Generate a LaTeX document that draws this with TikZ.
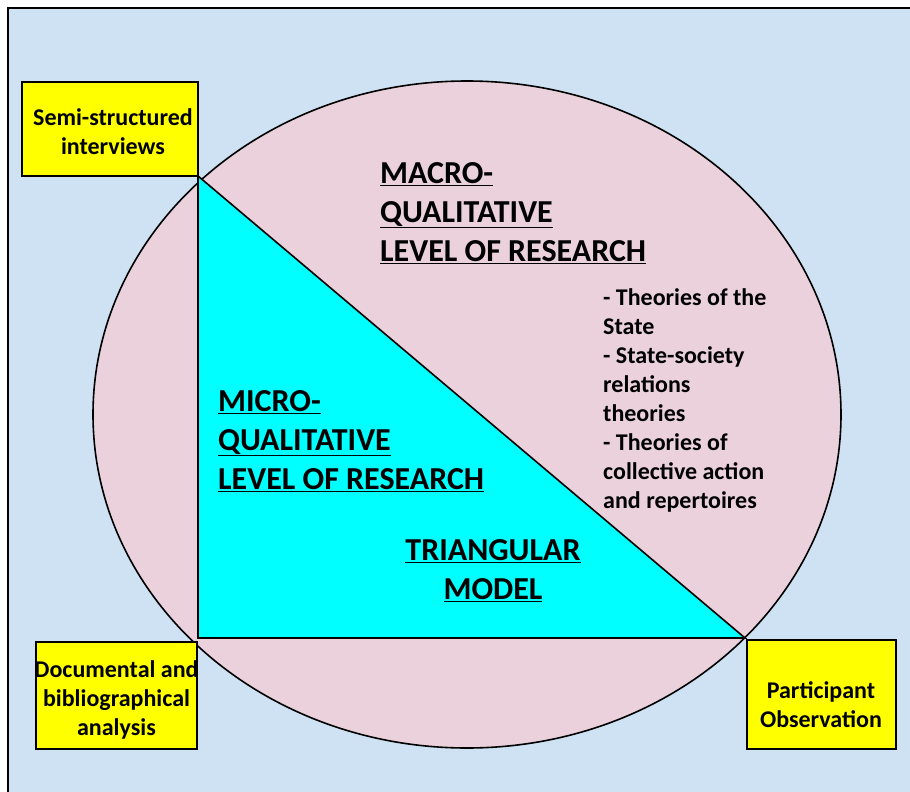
\documentclass[tikz,border=0pt]{standalone}
\usepackage{fontspec}
\setmainfont{Carlito}
\definecolor{bgblue}{RGB}{207,226,243}
\definecolor{ovalpink}{RGB}{234,209,220}
\definecolor{boxyellow}{RGB}{255,255,0}
\definecolor{tricyan}{RGB}{0,255,255}
\begin{document}
\begin{tikzpicture}[x=1pt,y=-1pt,
  frame/.style={draw=black,line width=2pt,fill=bgblue},
  oval/.style={draw=black,line width=1.6pt,fill=ovalpink},
  tri/.style={draw=black,line width=1.6pt,fill=tricyan,line join=miter},
  ybox/.style={draw=black,line width=1.6pt,fill=boxyellow,inner sep=0pt},
  boxtxt/.style={inner sep=0pt,align=center,font=\bfseries\fontsize{24}{29}\selectfont},
  bigtxt/.style={inner sep=0pt,align=left,font=\bfseries\fontsize{32}{39}\selectfont},
  listtxt/.style={inner sep=0pt,align=left,font=\bfseries\fontsize{24}{29}\selectfont}]
\useasboundingbox (0,0) rectangle (910,792);

% page frame, open towards the right and bottom edges
\begin{scope}
  \clip (0,0) rectangle (910,792);
  \draw[frame] (8,8) rectangle (930,812);
\end{scope}

% outer oval: macro level
\draw[oval] (467,414.5) ellipse [x radius=374, y radius=333.5];

% inner triangle: micro level
\coordinate (tA) at (198,176);
\coordinate (tB) at (198,638);
\coordinate (tC) at (745,638);
\draw[tri] (tA) -- (tB) -- (tC) -- cycle;

% method boxes at the triangle corners
\node[ybox,minimum width=176pt,minimum height=94pt] (semi) at (110,129) {};
\node[ybox,minimum width=161pt,minimum height=107pt] (docu) at (116.5,695.5) {};
\node[ybox,minimum width=149pt,minimum height=109pt] (part) at (821.5,694.5) {};

\node[boxtxt] (semitxt) at (113,132) {Semi-structured\\interviews};
\node[boxtxt] (docutxt) at (116.5,699.5) {Documental and\\bibliographical\\analysis};
\node[boxtxt] (parttxt) at (821,705) {Participant\\Observation};

% level labels
\node[bigtxt,anchor=north west] (macro) at (380,162)
  {\underline{MACRO-}\\\underline{QUALITATIVE}\\\underline{LEVEL OF RESEARCH}};
\node[bigtxt,anchor=north west] (micro) at (218,390)
  {\underline{MICRO-}\\\underline{QUALITATIVE}\\\underline{LEVEL OF RESEARCH}};
\node[bigtxt,align=center,anchor=north] (model) at (493,539.5)
  {\underline{TRIANGULAR}\\\underline{MODEL}};

% theories list
\node[listtxt,anchor=north west] (theories) at (603,288.5)
  {- Theories of the\\State\\- State-society\\relations\\theories\\- Theories of\\collective action\\and repertoires};
\end{tikzpicture}
\end{document}
